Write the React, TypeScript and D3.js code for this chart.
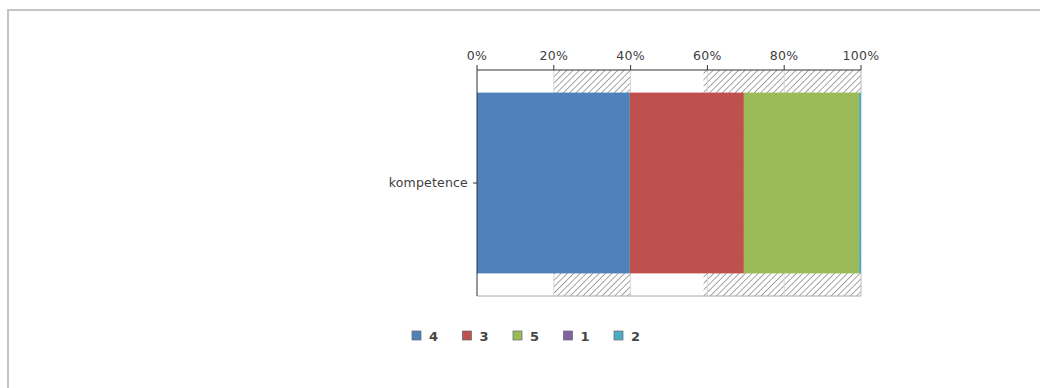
import React from "react";
import * as d3 from "d3";

const categories = ["kompetence"];
const seriesNames = ["4", "3", "5", "1", "2"];
const seriesValues = [39.8, 29.7, 30.0, 0, 0.5];
const seriesColors = ["#4f81bd", "#c0504d", "#9bbb59", "#8064a2", "#4bacc6"];
const tickValues = [0, 20, 40, 60, 80, 100];
const hatchBands = [
  [20, 40],
  [59, 100],
];

export default function App() {
  const W = 1040, H = 388;
  const left = 477, right = 861, top = 70, bottom = 296;
  const x = d3.scaleLinear().domain([0, 100]).range([left, right]);
  const y = d3.scaleBand().domain(categories).range([top, bottom]).paddingInner(0.2).paddingOuter(0.1);
  const font = "'DejaVu Sans', Verdana, sans-serif";

  let acc = 0;
  const segs = seriesValues.map((v, i) => {
    const s = { x0: acc, x1: acc + v, color: seriesColors[i] };
    acc += v;
    return s;
  });

  const legendX = d3.scaleLinear().domain([0, 1]).range([412, 462.5]);

  return (
    <svg width={W} height={H} style={{ position: "absolute", left: 0, top: 0 }}>
      <defs>
        <pattern id="hatch" width="4.5" height="4.5" patternUnits="userSpaceOnUse" patternTransform="rotate(45)">
          <rect width="4.5" height="4.5" fill="#ffffff" />
          <line x1="0" y1="0" x2="0" y2="4.5" stroke="#8f8f8f" strokeWidth="1.6" />
        </pattern>
      </defs>
      <rect x={0} y={0} width={W} height={H} fill="#fff" />
      <line x1={7} y1={10} x2={W} y2={10} stroke="#c4c4c4" strokeWidth={2} />
      <line x1={8} y1={10} x2={8} y2={H} stroke="#c4c4c4" strokeWidth={2} />

      {hatchBands.map(([a, b], i) => (
        <rect key={i} x={x(a)} y={top} width={x(b) - x(a)} height={bottom - top} fill="url(#hatch)" />
      ))}
      {tickValues.slice(1, -1).map((t) => (
        <line key={t} x1={x(t)} x2={x(t)} y1={top} y2={bottom} stroke="#d8d8d8" strokeWidth={1} />
      ))}
      <line x1={left} x2={right} y1={bottom} y2={bottom} stroke="#aaaaaa" strokeWidth={1} />
      <line x1={right} x2={right} y1={top} y2={bottom} stroke="#bbbbbb" strokeWidth={1} />

      {categories.map((c) =>
        segs.map((s, i) =>
          s.x1 > s.x0 ? (
            <rect key={c + i} x={x(s.x0)} y={y(c)} width={x(s.x1) - x(s.x0)} height={y.bandwidth()} fill={s.color} />
          ) : null
        )
      )}

      <line x1={left} x2={right} y1={top} y2={top} stroke="#333" strokeWidth={1} />
      {tickValues.map((t) => (
        <g key={t}>
          <line x1={x(t)} x2={x(t)} y1={top - 5} y2={top} stroke="#333" />
          <text x={x(t)} y={top - 10} textAnchor="middle" fontFamily={font} fontSize={12.5} letterSpacing={0.3} fill="#404040">
            {t}%
          </text>
        </g>
      ))}
      <line x1={left} x2={left} y1={top} y2={bottom} stroke="#333" strokeWidth={1} />
      {categories.map((c) => (
        <g key={c}>
          <line x1={left - 4} x2={left} y1={y(c)! + y.bandwidth() / 2} y2={y(c)! + y.bandwidth() / 2} stroke="#333" />
          <text x={left - 9} y={y(c)! + y.bandwidth() / 2 + 4} textAnchor="end" fontFamily={font} fontSize={12.5} letterSpacing={0.2} fill="#404040">
            {c}
          </text>
        </g>
      ))}

      {seriesNames.map((n, i) => (
        <g key={n}>
          <rect x={legendX(i)} y={331} width={9} height={9} fill={seriesColors[i]} stroke="#666" strokeWidth={0.7} />
          <text x={legendX(i) + 17} y={340.5} fontFamily={font} fontSize={13} fontWeight="bold" fill="#444">
            {n}
          </text>
        </g>
      ))}
    </svg>
  );
}
